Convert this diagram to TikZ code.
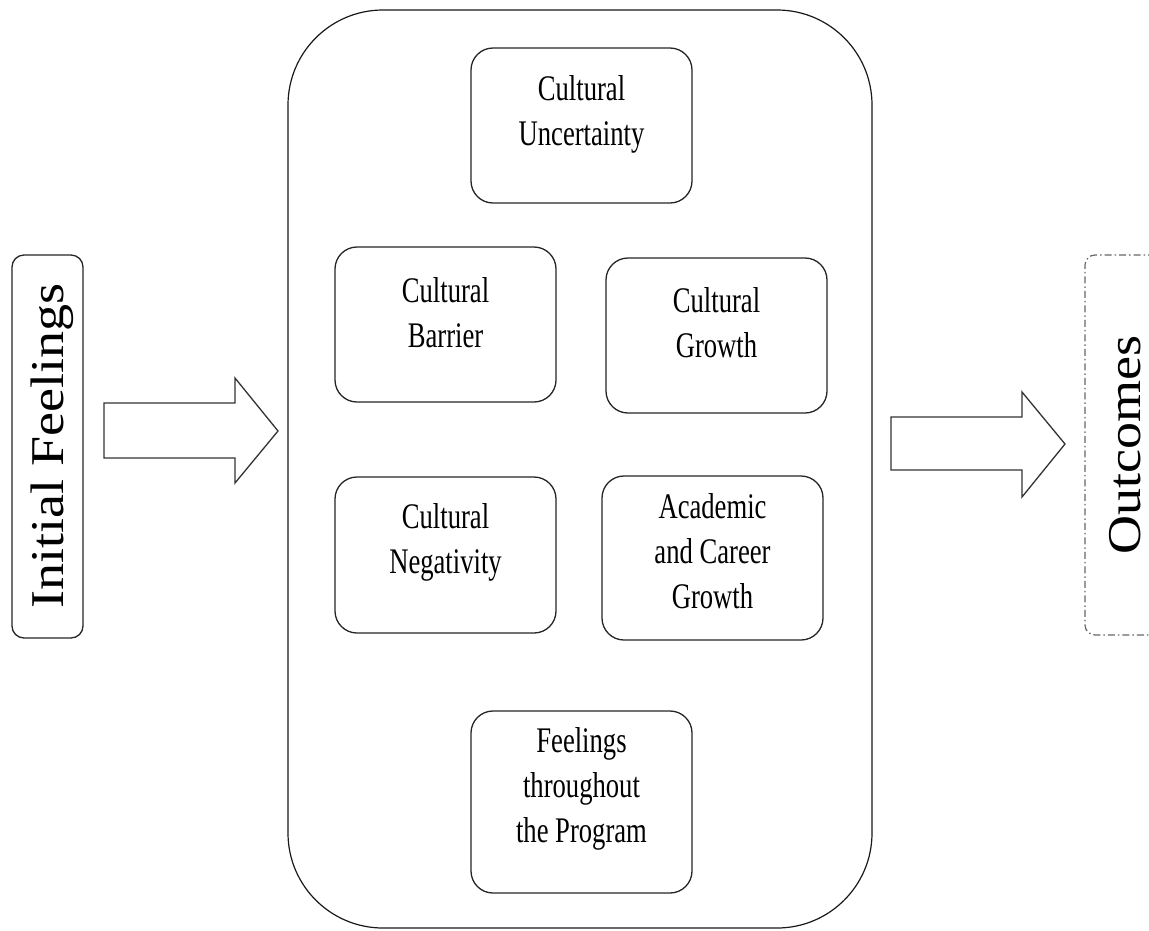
\documentclass[tikz,border=0pt]{standalone}
\usepackage{fontspec}
\setmainfont{Liberation Serif}
\newfontfamily\boxfont[FakeStretch=0.74]{Liberation Serif}
\newfontfamily\sidefont[FakeStretch=1.15]{Liberation Serif}
\usetikzlibrary{calc}
\tikzset{
  inbox/.style={draw=black!85, line width=1.3pt, rounded corners=22pt, minimum width=221pt, minimum height=155pt, inner sep=0pt},
  lbl/.style={font={\boxfont\fontsize{36}{45}\selectfont}, align=center, inner sep=0pt},
  sidelbl/.style={font={\sidefont\fontsize{47}{56}\selectfont}, rotate=90, inner sep=0pt},
  blockarrow/.style={draw=black!80, line width=1.3pt, fill=white, line join=miter}
}
\begin{document}
\begin{tikzpicture}[x=1pt,y=-1pt]
\useasboundingbox (0,0) rectangle (1149,930);
\fill[white] (0,0) rectangle (1149,930);
\begin{scope}
\clip (0,0) rectangle (1149,930);
% main container
\node[draw=black!90, line width=1.2pt, rounded corners=95pt, minimum width=584pt, minimum height=918pt, inner sep=0pt] (main) at (580,469) {};
% inner boxes
\node[inbox] (unc) at (581.5,125.5) {};
\node[lbl] at ($(unc.center)+(0,-11)$) {Cultural\\Uncertainty};
\node[inbox] (bar) at (445.5,324.5) {};
\node[lbl] at ($(bar.center)+(0,-12)$) {Cultural\\Barrier};
\node[inbox] (gro) at (716.5,335.5) {};
\node[lbl] at ($(gro.center)+(0,-13)$) {Cultural\\Growth};
\node[inbox, minimum height=156pt] (neg) at (445.5,555) {};
\node[lbl] at ($(neg.center)+(0,-13)$) {Cultural\\Negativity};
\node[inbox, minimum height=164pt] (aca) at (712.5,558) {};
\node[lbl] at ($(aca.center)+(0,-7)$) {Academic\\and Career\\Growth};
\node[inbox, minimum height=182pt] (fee) at (581.5,802) {};
\node[lbl] at ($(fee.center)+(0,-13)$) {Feelings\\throughout\\the Program};
% side boxes
\node[draw=black!85, line width=1.3pt, rounded corners=12pt, minimum width=71pt, minimum height=383pt, inner sep=0pt] (init) at (47.5,446.5) {};
\node[sidelbl] at (52,446) {Initial Feelings};
\node[draw=black!60, line width=1.2pt, dash pattern=on 7pt off 3pt on 1.5pt off 3pt, rounded corners=10pt, minimum width=80pt, minimum height=380pt, inner sep=0pt] (out) at (1125,445) {};
\node[sidelbl] at (1125,445) {Outcomes};
% block arrows
\draw[blockarrow] (104,403) -- (235,403) -- (235,378) -- (278,431) -- (235,483) -- (235,458) -- (104,458) -- cycle;
\draw[blockarrow] (891,417) -- (1022,417) -- (1022,392) -- (1065,444) -- (1022,497) -- (1022,470) -- (891,470) -- cycle;
\end{scope}
\end{tikzpicture}
\end{document}
